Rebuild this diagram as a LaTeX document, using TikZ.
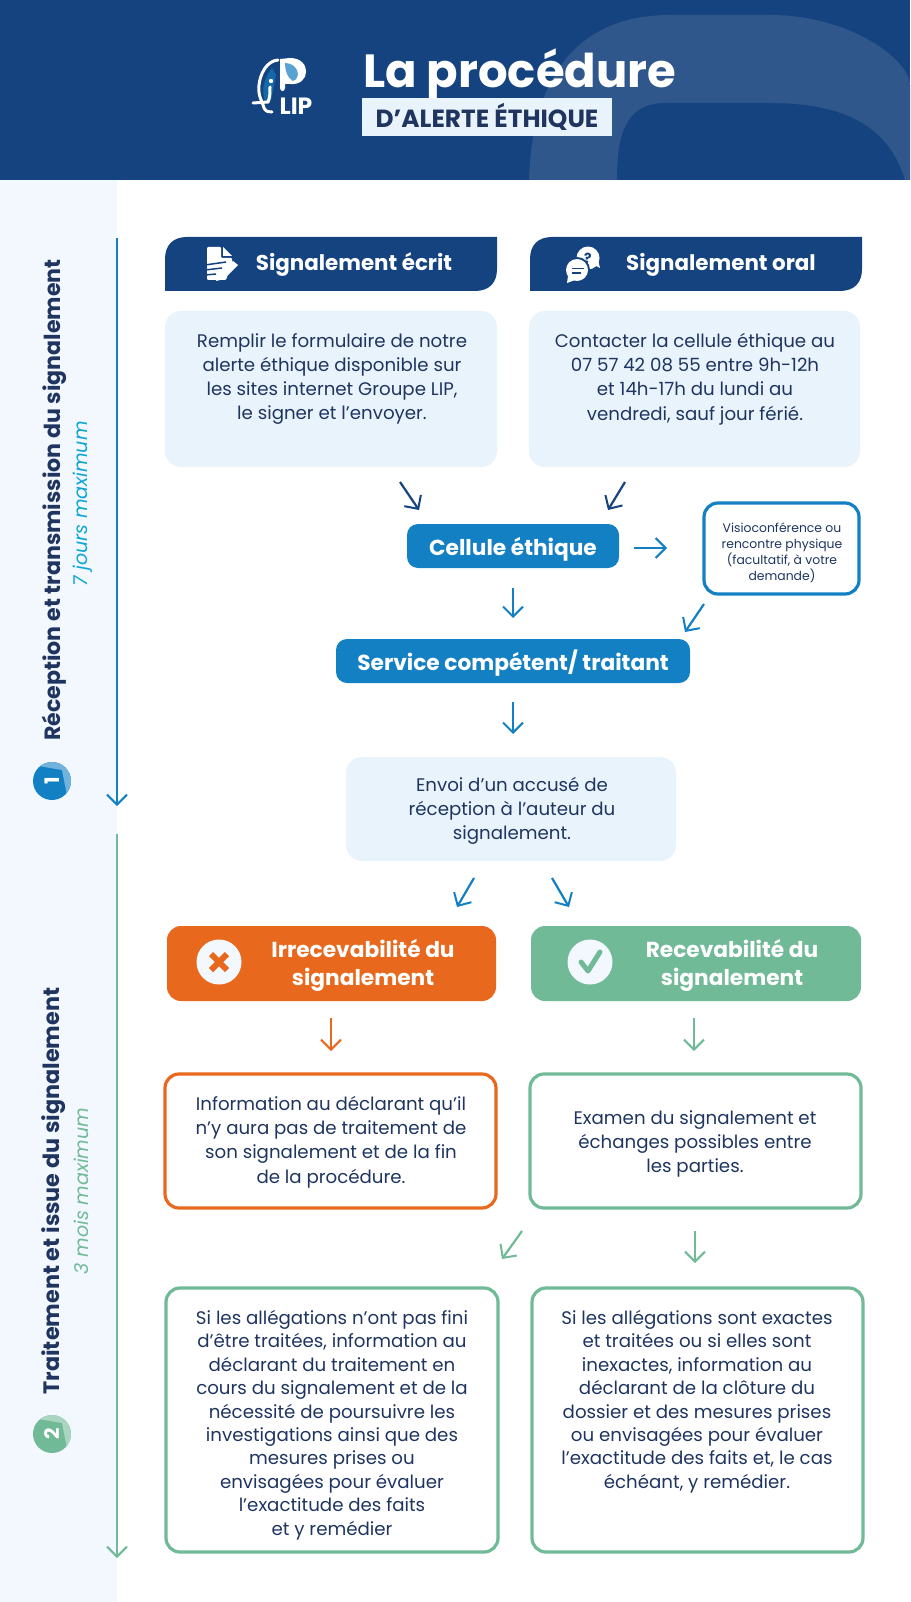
\documentclass[tikz,border=0pt]{standalone}
\usepackage{fontspec}
\setmainfont{Poppins}
\usetikzlibrary{arrows.meta}
\definecolor{navy}{HTML}{14437F}
\definecolor{ink}{HTML}{1F3560}
\definecolor{blue}{HTML}{1480C4}
\definecolor{paleb}{HTML}{E9F3FC}
\definecolor{strip}{HTML}{F2F8FE}
\definecolor{orangeb}{HTML}{E8691E}
\definecolor{greenb}{HTML}{71BA98}
\definecolor{arch}{HTML}{2F578C}
\newcommand{\fs}[1]{\fontsize{#1pt}{1.2\dimexpr#1pt\relax}\selectfont}
\tikzset{
 x=1pt,y=-1pt,
 tip/.style={-{Straight Barb[length=10pt,width=20pt,line width=2pt]}},
 arr/.style={line width=2.2pt,tip},
 nb/.style={fill=paleb,rounded corners=16pt},
 body/.style={align=center,text=ink,font=\fontsize{18.2pt}{24.2pt}\selectfont,inner sep=0pt},
 bodyt/.style={align=center,text=ink,font=\fontsize{18.2pt}{23.4pt}\selectfont,inner sep=0pt},
 bhead/.style={align=center,text=white,font=\fontsize{21.7pt}{28pt}\selectfont\bfseries,inner sep=0pt},
 tabhead/.style={align=center,text=white,font=\fs{21.4}\bfseries,inner sep=0pt},
 outl/.style={fill=white,line width=3.2pt,rounded corners=14pt},
 soft/.style={fill=#1,rounded corners=11pt},
}
\begin{document}
\begin{tikzpicture}
\useasboundingbox (0,0) rectangle (910,1602);
\fill[white] (0,0) rectangle (910,1602);
% header
\fill[navy] (0,0) rectangle (910,180);
\begin{scope}
\clip (0,0) rectangle (910,180);
\fill[arch,even odd rule] (529,180) .. controls (532,80) and (575,15) .. (670,15) -- (770,15) .. controls (850,15) and (910,60) .. (910,85) -- (910,180)
 (617,180) .. controls (617,135) and (625,103) .. (665,103) -- (770,103) .. controls (850,103) and (890,130) .. (905,180) -- cycle;
\end{scope}
\fill[strip] (0,180) rectangle (117,1602);
% logo
\fill[blue!60!navy] (272,68) .. controls (264,78) and (261,90) .. (265,101) -- (271,101) -- (276,75) -- cycle;
\draw[white,line width=3pt,line cap=round,line join=round] (278,60) .. controls (266,61) and (260,75) .. (259,85) .. controls (258,92) and (260,98) .. (262,102) -- (264,108) .. controls (266,112) and (269,112) .. (272,112);
\draw[white,line width=3pt,line cap=round] (253,103) -- (268,102) .. controls (270,98) and (270,92) .. (270,87);
\fill[white] (271,81) circle (2.2pt);
\fill[white] (280,59) -- (290,58) .. controls (312,58) and (311,86) .. (290,84) -- (285,84) -- (285,88) .. controls (285,92) and (280,92) .. (280,88) -- cycle;
\fill[white!45!cyan!50!blue] (285,63) .. controls (298,63) and (302,78) .. (293,81) .. controls (287,78) and (285,70) .. (285,63) -- cycle;
\node[text=white,font=\fs{23.5}\bfseries,inner sep=0pt] (logotxt) at (296,106) {LIP};
% title
\node[text=white,font=\fs{46.5}\bfseries,inner sep=0pt,anchor=base west] (title) at (363,88) {La procédure};
\node[fill=paleb,minimum width=250pt,minimum height=38pt,inner sep=0pt,text=ink,font=\fs{24.8}\bfseries] (sub) at (487,117) {D’ALERTE ÉTHIQUE};
% side
\draw[blue,line width=2.2pt,tip] (117,238) -- (117,806);
\draw[greenb,line width=2.2pt,tip] (117,834) -- (117,1558);
\node[rotate=90,text=ink,font=\fs{22.1}\bfseries,inner sep=0pt] (s1) at (54,500) {Réception et transmission du signalement};
\node[rotate=90,text=blue!70!cyan,font=\fs{19}\itshape,inner sep=0pt] (s1b) at (83,504) {7 jours maximum};
\node[rotate=90,text=ink,font=\fs{22.3}\bfseries,inner sep=0pt] (s2) at (54,1191) {Traitement et issue du signalement};
\node[rotate=90,text=greenb,font=\fs{19}\itshape,inner sep=0pt] (s2b) at (81,1191) {3 mois maximum};
\fill[blue] (52,781) circle (19);
\begin{scope}
\clip (52,781) circle (19);
\fill[blue!60!white] (33,758) -- (80,758) -- (80,800) -- (68,800) -- (62,770) -- (33,765) -- cycle;
\end{scope}
\node[rotate=90,text=white,font=\fs{20}\bfseries,inner sep=0pt] (n1) at (52,781) {1};
\fill[greenb] (52,1434) circle (19);
\begin{scope}
\clip (52,1434) circle (19);
\fill[greenb!60!white] (33,1411) -- (80,1411) -- (80,1453) -- (68,1453) -- (62,1423) -- (33,1418) -- cycle;
\end{scope}
\node[rotate=90,text=white,font=\fs{20}\bfseries,inner sep=0pt] (n2) at (52,1434) {2};
% tabs
\fill[navy] (165,291) -- (165,259) .. controls (165,245) and (173,237) .. (187,237) -- (497,237) -- (497,269) .. controls (497,283) and (489,291) .. (475,291) -- cycle;
\fill[navy] (530,291) -- (530,259) .. controls (530,245) and (538,237) .. (552,237) -- (862,237) -- (862,269) .. controls (862,283) and (854,291) .. (840,291) -- cycle;
\node[tabhead] (th1) at (354,265) {Signalement écrit};
\node[tabhead] (th2) at (721,265) {Signalement oral};
% icon doc
\fill[white,rounded corners=1pt] (207,247) -- (221,247) -- (221,258) -- (232,258) -- (232,262) -- (226,280) -- (207,280) -- cycle;
\fill[white] (223,247) -- (232,256) -- (223,256) -- cycle;
\draw[navy,line width=1.5pt] (205,265) -- (226,262) (205,270) -- (222,268) (205,275) -- (216,274);
\fill[white] (219,272) -- (233,261) -- (238,265) -- (224,279) -- (216,281) -- cycle;
% icon chat
\fill[white] (588,258) circle (11.5);
\fill[white] (594,265) -- (600,268) -- (598,260) -- cycle;
\node[navy,font=\fs{14}\bfseries,inner sep=0pt] (q) at (588,258) {?};
\fill[navy] (577,270) circle (13);
\fill[white] (577,270) circle (11);
\fill[white] (568,276) -- (567,283) -- (575,280) -- cycle;
\draw[navy,line width=1.5pt] (572,268.5) -- (584,268.5) (572,273) -- (581,273);
% boxes
\fill[nb] (165,311) rectangle (497,467);
\fill[nb] (529,311) rectangle (860,467);
\node[body,anchor=north] (t1) at (332,333) {Remplir le formulaire de notre\\alerte éthique disponible sur\\les sites internet Groupe LIP,\\le signer et l’envoyer.};
\node[body,anchor=north] (t2) at (695,333) {Contacter la cellule éthique au\\07 57 42 08 55 entre 9h-12h\\et 14h-17h du lundi au\\vendredi, sauf jour férié.};
\node[soft=blue,minimum width=212pt,minimum height=44pt,inner sep=0pt] (ce) at (513,546) {};
\node[bhead] at ([yshift=-3pt]ce.center) {Cellule éthique};
\node[soft=blue,minimum width=354pt,minimum height=44pt,inner sep=0pt] (sc) at (513,661) {};
\node[bhead] at ([yshift=-2pt]sc.center) {Service compétent/ traitant};
\draw[outl,draw=blue] (704,503) rectangle (859,594);
\node[align=center,text=ink,font=\fontsize{12.4pt}{16pt}\selectfont,inner sep=0pt] (vis) at (782,553) {Visioconférence ou\\rencontre physique\\(facultatif, à votre\\demande)};
\fill[nb] (346,757) rectangle (676,861);
\node[body] (acc) at (512,811) {Envoi d’un accusé de\\réception à l’auteur du\\signalement.};
\node[soft=orangeb,rounded corners=14pt,minimum width=329pt,minimum height=75pt,inner sep=0pt] (irr) at (331.5,963.5) {};
\node[soft=greenb,rounded corners=14pt,minimum width=330pt,minimum height=75pt,inner sep=0pt] (rec) at (696,963.5) {};
\node[bhead] (irrt) at (363,965) {Irrecevabilité du\\signalement};
\node[bhead] (rect) at (732,965) {Recevabilité du\\signalement};
\fill[strip] (219,962) circle (22.5);
\draw[orangeb,line width=6pt] (211,954) -- (227,970) (227,954) -- (211,970);
\fill[strip] (590,962) circle (22.5);
\draw[greenb,line width=5pt,line cap=round,line join=round] (581,962) -- (588,971) -- (600,952);
\draw[outl,draw=orangeb] (165,1074) rectangle (496,1208);
\draw[outl,draw=greenb] (530,1074) rectangle (861,1208);
\node[body] (t3) at (331,1142) {Information au déclarant qu’il\\n’y aura pas de traitement de\\son signalement et de la fin\\de la procédure.};
\node[body] (t4) at (695,1144) {Examen du signalement et\\échanges possibles entre\\les parties.};
\draw[outl,draw=greenb] (166,1288) rectangle (498,1552);
\draw[outl,draw=greenb] (532,1288) rectangle (863,1552);
\node[bodyt,anchor=north] (t5) at (332,1310) {Si les allégations n’ont pas fini\\d’être traitées, information au\\déclarant du traitement en\\cours du signalement et de la\\nécessité de poursuivre les\\investigations ainsi que des\\mesures prises ou\\envisagées pour évaluer\\l’exactitude des faits\\et y remédier};
\node[bodyt,anchor=north] (t6) at (697,1310) {Si les allégations sont exactes\\et traitées ou si elles sont\\inexactes, information au\\déclarant de la clôture du\\dossier et des mesures prises\\ou envisagées pour évaluer\\l’exactitude des faits et, le cas\\échéant, y remédier.};
% connectors
\coordinate (a1) at (400,482); \coordinate (a1e) at (419,510);
\coordinate (a2) at (625,482); \coordinate (a2e) at (608,510);
\draw[arr,draw=navy] (a1) -- (a1e);
\draw[arr,draw=navy] (a2) -- (a2e);
\coordinate (a3) at (634,548); \coordinate (a3e) at (667,548);
\draw[arr,draw=blue] (a3) -- (a3e);
\coordinate (a4) at (513,588); \coordinate (a4e) at (513,618);
\draw[arr,draw=blue] (a4) -- (a4e);
\coordinate (a5) at (704,604); \coordinate (a5e) at (685,632);
\draw[arr,draw=blue] (a5) -- (a5e);
\coordinate (a6) at (513,702); \coordinate (a6e) at (513,734);
\draw[arr,draw=blue] (a6) -- (a6e);
\coordinate (a7) at (474,878); \coordinate (a7e) at (457,907);
\draw[arr,draw=blue] (a7) -- (a7e);
\coordinate (a8) at (552,878); \coordinate (a8e) at (569,907);
\draw[arr,draw=blue] (a8) -- (a8e);
\coordinate (a9) at (331,1018); \coordinate (a9e) at (331,1051);
\draw[arr,draw=orangeb] (a9) -- (a9e);
\coordinate (a10) at (694,1018); \coordinate (a10e) at (694,1051);
\draw[arr,draw=greenb] (a10) -- (a10e);
\coordinate (a11) at (522,1231); \coordinate (a11e) at (502,1259);
\draw[arr,draw=greenb] (a11) -- (a11e);
\coordinate (a12) at (695,1231); \coordinate (a12e) at (695,1263);
\draw[arr,draw=greenb] (a12) -- (a12e);
\end{tikzpicture}
\end{document}
